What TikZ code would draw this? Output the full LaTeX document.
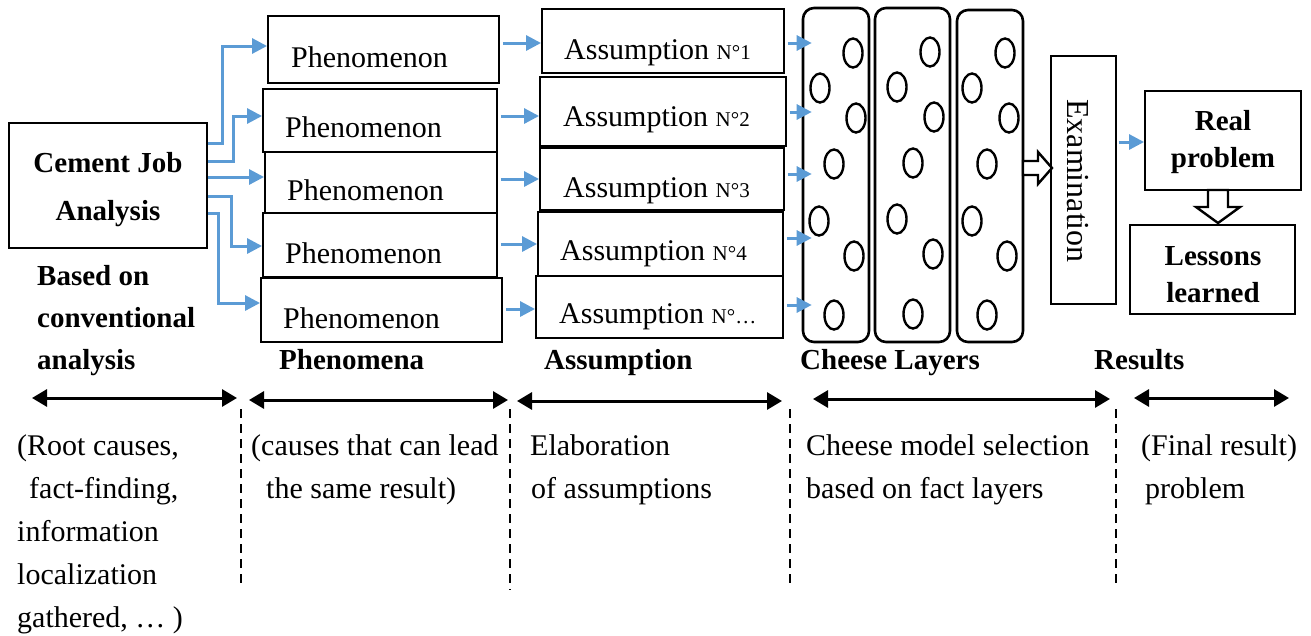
\documentclass[tikz,border=0pt]{standalone}
\usepackage{fontspec}
\setmainfont{Liberation Serif}
\usetikzlibrary{arrows.meta,calc}
\definecolor{flowblue}{RGB}{91,155,213}
\begin{document}
\begin{tikzpicture}[x=1pt,y=-1pt,
 box/.style={draw, line width=1.9pt, inner sep=0pt, fill=white},
 layer/.style={draw, line width=2.6pt, rounded corners=11pt, inner sep=0pt},
 hole/.style={draw, line width=2.4pt},
 txt/.style={inner sep=0pt, anchor=base west, font=\fontsize{30}{36}\selectfont},
 btxt/.style={inner sep=0pt, anchor=base west, font=\bfseries\fontsize{29}{36}\selectfont},
 bctr/.style={inner sep=0pt, anchor=base, font=\bfseries\fontsize{29}{36}\selectfont},
 barrow/.style={draw=flowblue, line width=3pt, -{Triangle[length=15pt,width=15pt]}},
 darrow/.style={line width=3pt, {Triangle[length=15pt,width=17pt]}-{Triangle[length=15pt,width=17pt]}},
 divider/.style={line width=1.6pt, dash pattern=on 9pt off 6pt},
 hollow/.style={draw, line width=2.4pt, fill=white, line join=miter}
]
\useasboundingbox (0,0) rectangle (1311,635);

% Cement job analysis
\node[box, minimum width=198pt, minimum height=125pt] (cem) at (108,185.5) {};
\node[bctr] (cemA) at (108,172) {Cement Job};
\node[bctr] (cemB) at (108,220) {Analysis};

% Phenomenon boxes
\node[box, minimum width=231pt, minimum height=67pt] (p1) at (383.5,49.5) {};
\node[txt] (pt1) at (291,67) {Phenomenon};
\node[box, minimum width=234pt, minimum height=63pt] (p2) at (380,120.5) {};
\node[txt] (pt2) at (285,137) {Phenomenon};
\node[box, minimum width=232pt, minimum height=61pt] (p3) at (381,182.5) {};
\node[txt] (pt3) at (287,200) {Phenomenon};
\node[box, minimum width=234pt, minimum height=64pt] (p4) at (380,245) {};
\node[txt] (pt4) at (285,263) {Phenomenon};
\node[box, minimum width=241pt, minimum height=64pt] (p5) at (381.5,310) {};
\node[txt] (pt5) at (283,328) {Phenomenon};

% Assumption boxes
\node[box, minimum width=242pt, minimum height=64pt] (a1) at (663,41) {};
\node[txt] (at1) at (564,59) {Assumption {\fontsize{21}{24}\selectfont N°1}};
\node[box, minimum width=246pt, minimum height=69pt] (a2) at (663,111.5) {};
\node[txt] (at2) at (563,126) {Assumption {\fontsize{21}{24}\selectfont N°2}};
\node[box, minimum width=244pt, minimum height=62pt] (a3) at (662,179) {};
\node[txt] (at3) at (563,197) {Assumption {\fontsize{21}{24}\selectfont N°3}};
\node[box, minimum width=245pt, minimum height=64pt] (a4) at (660.5,244) {};
\node[txt] (at4) at (560,260) {Assumption {\fontsize{21}{24}\selectfont N°4}};
\node[box, minimum width=247pt, minimum height=62pt] (a5) at (659.5,307) {};
\node[txt] (at5) at (559,323) {Assumption {\fontsize{21}{24}\selectfont N°…}};

% Cheese layers
\node[layer, minimum width=66pt, minimum height=334pt] (c1) at (836,175) {};
\node[layer, minimum width=75pt, minimum height=334pt] (c2) at (912.5,175) {};
\node[layer, minimum width=66pt, minimum height=332pt] (c3) at (990,176) {};
\foreach \x/\y in {853/53,820/88,856/118,834/164,819/221,854/256,834/315,
                   930/52,897/87,934/117,913/163,897/219,933/254,913/314,
                   1005/53,972/88,1009/118,987/164,972/221,1007/256,987/315}
  \draw[hole] (\x,\y) ellipse [x radius=9.5, y radius=14.5];

% Examination and results
\node[box, minimum width=65pt, minimum height=248pt] (exam) at (1083.5,180) {};
\node[inner sep=0pt, rotate=-90, font=\fontsize{32}{36}\selectfont] (examt) at (1078,181) {Examination};
\node[box, minimum width=156pt, minimum height=99pt] (rp) at (1223,140.5) {};
\node[bctr] (rpA) at (1223,130) {Real};
\node[bctr] (rpB) at (1223,167) {problem};
\node[box, minimum width=165pt, minimum height=89pt] (ll) at (1212.5,269.5) {};
\node[bctr] (llA) at (1213,265) {Lessons};
\node[bctr] (llB) at (1213,302) {learned};

% blue arrows from cement job analysis
\draw[barrow] (cem.east |- 0,143) -- (222,143) |- (p1.west |- 0,46);
\draw[barrow] (cem.east |- 0,161) -- (233,161) |- (p2.west |- 0,116);
\draw[barrow] (cem.east |- 0,177) -- (p3.west |- 0,177);
\draw[barrow] (cem.east |- 0,196) -- (231,196) |- (p4.west |- 0,246);
\draw[barrow] (cem.east |- 0,213) -- (218,213) |- (p5.west |- 0,303);

% phenomenon -> assumption
\draw[barrow] ([xshift=3pt]p1.east |- 0,43) -- (a1.west |- 0,43);
\draw[barrow] ([xshift=3pt]p2.east |- 0,116) -- (a2.west |- 0,116);
\draw[barrow] ([xshift=3pt]p3.east |- 0,179) -- (a3.west |- 0,179);
\draw[barrow] ([xshift=3pt]p4.east |- 0,244) -- (a4.west |- 0,244);
\draw[barrow] ([xshift=3pt]p5.east |- 0,309) -- (a5.west |- 0,309);

% assumption -> cheese
\draw[barrow] ([xshift=3pt]a1.east |- 0,43) -- ([xshift=10pt]c1.west |- 0,43);
\draw[barrow] ([xshift=3pt]a2.east |- 0,112) -- ([xshift=10pt]c1.west |- 0,112);
\draw[barrow] ([xshift=3pt]a3.east |- 0,174) -- ([xshift=10pt]c1.west |- 0,174);
\draw[barrow] ([xshift=3pt]a4.east |- 0,238) -- ([xshift=10pt]c1.west |- 0,238);
\draw[barrow] ([xshift=3pt]a5.east |- 0,305) -- ([xshift=10pt]c1.west |- 0,305);

% examination -> real problem
\draw[barrow] ([xshift=2pt]exam.east |- 0,142) -- (rp.west |- 0,142);

% hollow arrows
\draw[hollow] (1023,161) -- (1038,161) -- (1038,152) -- (1052,168) -- (1038,184) -- (1038,175) -- (1023,175) -- cycle;
\draw[hollow] (1208,190) -- (1228,190) -- (1228,207) -- (1240,207) -- (1218,223) -- (1196,207) -- (1208,207) -- cycle;

% Headings
\node[btxt] (h0a) at (37,285) {Based on};
\node[btxt] (h0b) at (37,327) {conventional};
\node[btxt] (h0c) at (37,369) {analysis};
\node[btxt] (h1) at (279,369) {Phenomena};
\node[btxt] (h2) at (544,369) {Assumption};
\node[btxt] (h3) at (800,369) {Cheese Layers};
\node[btxt] (h4) at (1094,369) {Results};

% double arrows
\coordinate (d0a) at (32,398);  \coordinate (d0b) at (237,398);
\coordinate (d1a) at (249,400); \coordinate (d1b) at (508,400);
\coordinate (d2a) at (517,401); \coordinate (d2b) at (782,401);
\coordinate (d3a) at (813,399); \coordinate (d3b) at (1110,399);
\coordinate (d4a) at (1134,398); \coordinate (d4b) at (1289,398);
\draw[darrow] (d0a) -- (d0b);
\draw[darrow] (d1a) -- (d1b);
\draw[darrow] (d2a) -- (d2b);
\draw[darrow] (d3a) -- (d3b);
\draw[darrow] (d4a) -- (d4b);

% dividers
\draw[divider] (241,409) -- (241,584);
\draw[divider] (510,409) -- (510,590);
\draw[divider] (790,409) -- (790,584);
\draw[divider] (1116,409) -- (1116,584);

% descriptions
\node[txt] (r1) at (17,455) {(Root causes,};
\node[txt] (r2) at (29,498) {fact-finding,};
\node[txt] (r3) at (17,541) {information};
\node[txt] (r4) at (17,584) {localization};
\node[txt] (r5) at (17,627) {gathered, … )};
\node[txt] (q1) at (251,455) {(causes that can lead};
\node[txt] (q2) at (266,498) {the same result)};
\node[txt] (e1) at (530,455) {Elaboration};
\node[txt] (e2) at (531,498) {of assumptions};
\node[txt] (s1) at (806,455) {Cheese model selection};
\node[txt] (s2) at (806,498) {based on fact layers};
\node[txt] (f1) at (1141,455) {(Final result)};
\node[txt] (f2) at (1145,498) {problem};
\end{tikzpicture}
\end{document}
